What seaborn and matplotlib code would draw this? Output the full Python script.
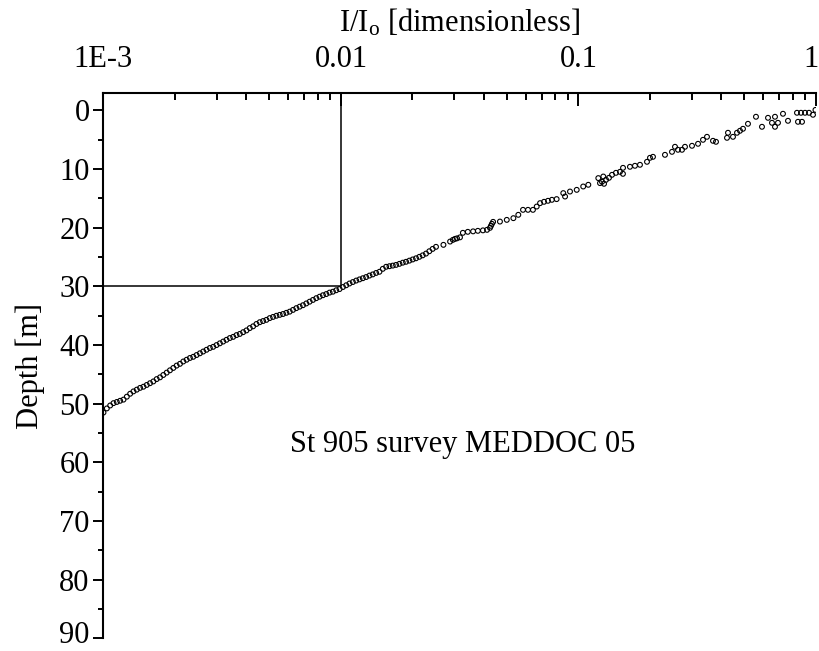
import matplotlib
matplotlib.use("Agg")
import matplotlib.pyplot as plt
from matplotlib.ticker import LogLocator, NullFormatter, MultipleLocator
from matplotlib.transforms import ScaledTranslation
import pandas as pd
import seaborn as sns

# Light profile, deeper part: depth [m] and relative irradiance I/Io
deep_depth = [51.5, 50.8, 50.3, 49.9, 49.7, 49.5, 49.3, 48.8, 48.3, 47.9,
              47.6, 47.3, 47.1, 46.8, 46.5, 46.2, 45.8, 45.5, 45.1, 44.7,
              44.3, 43.9, 43.5, 43.2, 42.8, 42.5, 42.2, 42.0, 41.7, 41.4,
              41.1, 40.8, 40.5, 40.3, 40.0, 39.7, 39.4, 39.1, 38.8, 38.6,
              38.3, 38.1, 37.8, 37.5, 37.1, 36.8, 36.4, 36.1, 35.9, 35.7,
              35.4, 35.2, 35.0, 34.85, 34.7, 34.5, 34.3, 34.0, 33.7, 33.45,
              33.2, 32.9, 32.6, 32.3, 32.0, 31.75, 31.5, 31.3, 31.05, 30.9,
              30.65, 30.45, 30.1, 29.8, 29.5, 29.25, 29.0, 28.8, 28.6, 28.4,
              28.15, 27.95, 27.7, 27.5, 27.0, 26.65, 26.55, 26.45, 26.33, 26.15,
              25.95, 25.8, 25.6, 25.4, 25.2, 24.95, 24.7, 24.4, 24.0, 23.6,
              23.25]
deep_ratio = [0.001000, 0.001033, 0.001067, 0.001102, 0.001138, 0.001175, 0.001214,
              0.001254, 0.001295, 0.001337, 0.001381, 0.001426, 0.001473, 0.001521,
              0.001570, 0.001622, 0.001675, 0.001730, 0.001786, 0.001845, 0.001905,
              0.001968, 0.002032, 0.002099, 0.002168, 0.002239, 0.002312, 0.002388,
              0.002466, 0.002547, 0.002630, 0.002716, 0.002805, 0.002897, 0.002992,
              0.003090, 0.003192, 0.003296, 0.003404, 0.003516, 0.003631, 0.003750,
              0.003873, 0.004000, 0.004130, 0.004266, 0.004406, 0.004550, 0.004699,
              0.004853, 0.005012, 0.005176, 0.005346, 0.005521, 0.005702, 0.005888,
              0.006081, 0.006281, 0.006486, 0.006699, 0.006918, 0.007145, 0.007379,
              0.007621, 0.007870, 0.008128, 0.008395, 0.008670, 0.008954, 0.009247,
              0.009550, 0.009863, 0.01019, 0.01052, 0.01086, 0.01122, 0.01159,
              0.01197, 0.01236, 0.01276, 0.01318, 0.01361, 0.01406, 0.01452,
              0.01500, 0.01549, 0.01600, 0.01652, 0.01706, 0.01762, 0.01820,
              0.01879, 0.01941, 0.02004, 0.02070, 0.02138, 0.02208, 0.02280,
              0.02355, 0.02432, 0.02512]

# Light profile, upper part (sparser, more scattered readings)
upper_depth = [22.91, 22.35, 22.06, 21.89, 21.80, 21.63, 20.86, 20.69, 20.61, 20.52,
               20.44, 20.35, 20.01, 19.67, 19.33, 18.99, 18.94, 18.65, 18.36, 17.79,
               16.94, 16.94, 16.94, 16.38, 15.80, 15.57, 15.40, 15.23, 15.11, 14.09,
               14.67, 13.82, 13.53, 12.96, 12.67, 12.38, 11.53, 11.26, 12.16, 11.82,
               11.48, 12.50, 10.97, 10.63, 10.46, 10.80, 9.78, 9.60, 9.43, 9.26,
               8.75, 8.07, 7.90, 7.56, 7.05, 6.19, 6.70, 6.70, 6.19, 6.02,
               5.68, 5.00, 4.49, 5.17, 5.34, 4.66, 3.80, 4.49, 3.80, 3.46,
               3.12, 2.27, 1.07, 2.78, 1.25, 2.10, 1.07, 2.78, 2.10, 0.56,
               1.76, 0.39, 0.39, 0.39, 0.39, 1.93, 1.93, 0.73, -0.10]
upper_ratio = [0.0270, 0.0288, 0.0296, 0.0302, 0.0308, 0.0317, 0.0326, 0.0342, 0.0360, 0.0377,
               0.0396, 0.0412, 0.0424, 0.0428, 0.0432, 0.0437, 0.0467, 0.0499, 0.0532, 0.0558,
               0.0584, 0.0613, 0.0643, 0.0667, 0.0689, 0.0716, 0.0744, 0.0773, 0.0809, 0.0863,
               0.0878, 0.0921, 0.0983, 0.1047, 0.1100, 0.1232, 0.1212, 0.1272, 0.1256, 0.1306,
               0.1344, 0.1281, 0.1384, 0.1438, 0.1495, 0.1539, 0.1540, 0.1647, 0.1729, 0.1815,
               0.1943, 0.2000, 0.2059, 0.2313, 0.2476, 0.2549, 0.2624, 0.2728, 0.2808, 0.3006,
               0.3187, 0.3344, 0.3476, 0.3684, 0.3793, 0.4220, 0.4261, 0.4472, 0.4650, 0.4786,
               0.4928, 0.5172, 0.5589, 0.5924, 0.6281, 0.6527, 0.6720, 0.6720, 0.6918, 0.7262,
               0.7623, 0.8318, 0.8646, 0.8990, 0.9344, 0.8400, 0.8733, 0.9714, 0.9950]

x_ticks = [0.001, 0.01, 0.1, 1.0]
x_tick_labels = ["1E-3", "0.01", "0.1", "1"]
y_ticks = [0, 10, 20, 30, 40, 50, 60, 70, 80, 90]

ref_ratio = 0.01      # 1 % light level
ref_depth = 30.0      # depth where 1 % is reached
station_label = "St 905 survey MEDDOC 05"

profile = pd.DataFrame({
    "depth": deep_depth + upper_depth,
    "ratio": deep_ratio + upper_ratio,
})

sns.set_theme(style="white")
plt.rcParams["font.family"] = ["Liberation Serif", "DejaVu Serif"]
plt.rcParams["mathtext.fontset"] = "custom"
plt.rcParams["mathtext.rm"] = "Liberation Serif"
plt.rcParams["mathtext.it"] = "Liberation Serif:italic"

fig = plt.figure(figsize=(8.2, 6.51), dpi=100)
ax = fig.add_axes([0.1262, 0.0195, 0.8689, 0.8369])

sns.scatterplot(data=profile, x="ratio", y="depth", ax=ax, marker="o",
                s=12, facecolor="none", edgecolor="black", linewidth=0.8,
                legend=False)

ax.set_xscale("log")
ax.set_xlim(0.001, 1.0)
y_top = -2.9
ax.set_ylim(90, y_top)

# 1 % light guide lines
ax.plot([ref_ratio, ref_ratio], [y_top, ref_depth], color="black", lw=1.1)
ax.plot([0.001, ref_ratio], [ref_depth, ref_depth], color="black", lw=1.1)

ax.text(0.0325, 56.9, station_label, ha="center", va="center", fontsize=22,
        color="black")

# axes frame: only top and left
for side in ("right", "bottom"):
    ax.spines[side].set_visible(False)
for side in ("top", "left"):
    ax.spines[side].set_visible(True)
    ax.spines[side].set_color("black")
    ax.spines[side].set_linewidth(1.5)

ax.xaxis.tick_top()
ax.xaxis.set_label_position("top")
ax.set_xticks(x_ticks, labels=x_tick_labels)
ax.xaxis.set_minor_locator(LogLocator(base=10, subs=range(2, 10)))
ax.xaxis.set_minor_formatter(NullFormatter())
ax.set_yticks(y_ticks)
ax.yaxis.set_minor_locator(MultipleLocator(5))

ax.tick_params(axis="x", which="major", direction="in", length=9, width=1.4,
               top=True, bottom=False, labeltop=True, labelbottom=False,
               pad=14, labelsize=22, colors="black")
ax.tick_params(axis="x", which="minor", direction="in", length=5, width=1.4,
               top=True, bottom=False, colors="black")
ax.tick_params(axis="y", which="major", direction="out", length=7, width=1.4,
               left=True, right=False, labelsize=22, pad=3, colors="black")
ax.tick_params(axis="y", which="minor", direction="out", length=3.6, width=1.4,
               left=True, right=False, colors="black")

# keep the edge labels ("1" on top, "90" at the bottom) inside the figure
last_x_label = ax.xaxis.get_major_ticks()[-1].label2
last_x_label.set_horizontalalignment("right")
last_x_label.set_transform(last_x_label.get_transform()
                           + ScaledTranslation(3 / 100, 0, fig.dpi_scale_trans))
last_y_label = ax.yaxis.get_major_ticks()[-1].label1
last_y_label.set_transform(last_y_label.get_transform()
                           + ScaledTranslation(0, 6 / 100, fig.dpi_scale_trans))

ax.set_xlabel(r"I/I$_{\mathrm{o}}$ [dimensionless]", fontsize=22, labelpad=10,
              color="black")
ax.set_ylabel("Depth [m]", fontsize=22, labelpad=10, color="black")

fig.savefig("out.png", dpi=100)
